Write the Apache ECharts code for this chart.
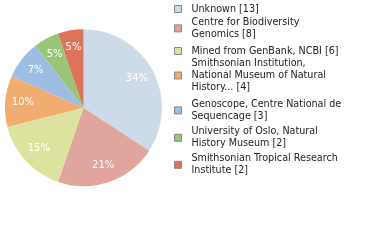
<!DOCTYPE html>
<html>
<head>
<meta charset="utf-8">
<script src="https://cdn.jsdelivr.net/npm/echarts@6/dist/echarts.min.js"></script>
<style>
  html, body { margin: 0; padding: 0; background: #fff; }
  #chart { width: 380px; height: 240px; }
</style>
</head>
<body>
<div id="chart"></div>
<script>
// Specimen counts by depositing institution
const names = [
  'Unknown [13]',
  'Centre for Biodiversity\nGenomics [8]',
  'Mined from GenBank, NCBI [6]',
  'Smithsonian Institution,\nNational Museum of Natural\nHistory... [4]',
  'Genoscope, Centre National de\nSequencage [3]',
  'University of Oslo, Natural\nHistory Museum [2]',
  'Smithsonian Tropical Research\nInstitute [2]'
];
const counts = [13, 8, 6, 4, 3, 2, 2];
const colors = ['#cddbe8', '#e0a59d', '#dde39e', '#f1ad6f', '#9dbde3', '#9ac476', '#dd7359'];

const total = counts.reduce((a, b) => a + b, 0);
const pieData = names.map((n, i) => ({ name: n, value: counts[i], itemStyle: { color: colors[i] } }));
const labelData = names.map((n, i) => ({ name: n, value: counts[i] }));

// one legend block per entry so each sits at its own vertical position
const legendTops = [2.9, 16.2, 44.9, 57.2, 98.2, 125.6, 152.6];
const legends = names.map((n, i) => ({
  data: [n],
  left: 174,
  top: legendTops[i],
  padding: 0,
  orient: 'vertical',
  selectedMode: false,
  icon: 'rect',
  itemWidth: 7,
  itemHeight: 7,
  itemStyle: { borderColor: '#888', borderWidth: 1 },
  textStyle: {
    fontFamily: 'DejaVu Sans',
    fontSize: 9.6,
    lineHeight: 12.2,
    color: '#222',
    padding: [0, 0, 0, 5]
  }
}));

const chart = echarts.init(document.getElementById('chart'), null, { renderer: 'canvas' });
chart.setOption({
  animation: false,
  legend: legends,
  series: [
    {
      type: 'pie',
      center: [83.5, 107.7],
      radius: [0, 78.5],
      startAngle: 90,
      clockwise: true,
      silent: true,
      label: { show: false },
      labelLine: { show: false },
      itemStyle: { borderWidth: 0 },
      data: pieData
    },
    {
      // transparent ring that carries the percentage labels
      type: 'pie',
      center: [83.5, 107.7],
      radius: [37, 78.5],
      startAngle: 90,
      clockwise: true,
      silent: true,
      itemStyle: { color: 'rgba(0,0,0,0)', borderWidth: 0 },
      label: {
        show: true,
        position: 'inside',
        color: '#fff',
        fontFamily: 'DejaVu Sans',
        fontSize: 10,
        formatter: p => Math.floor(p.value / total * 100) + '%'
      },
      labelLine: { show: false },
      data: labelData
    }
  ]
});
</script>
</body>
</html>
